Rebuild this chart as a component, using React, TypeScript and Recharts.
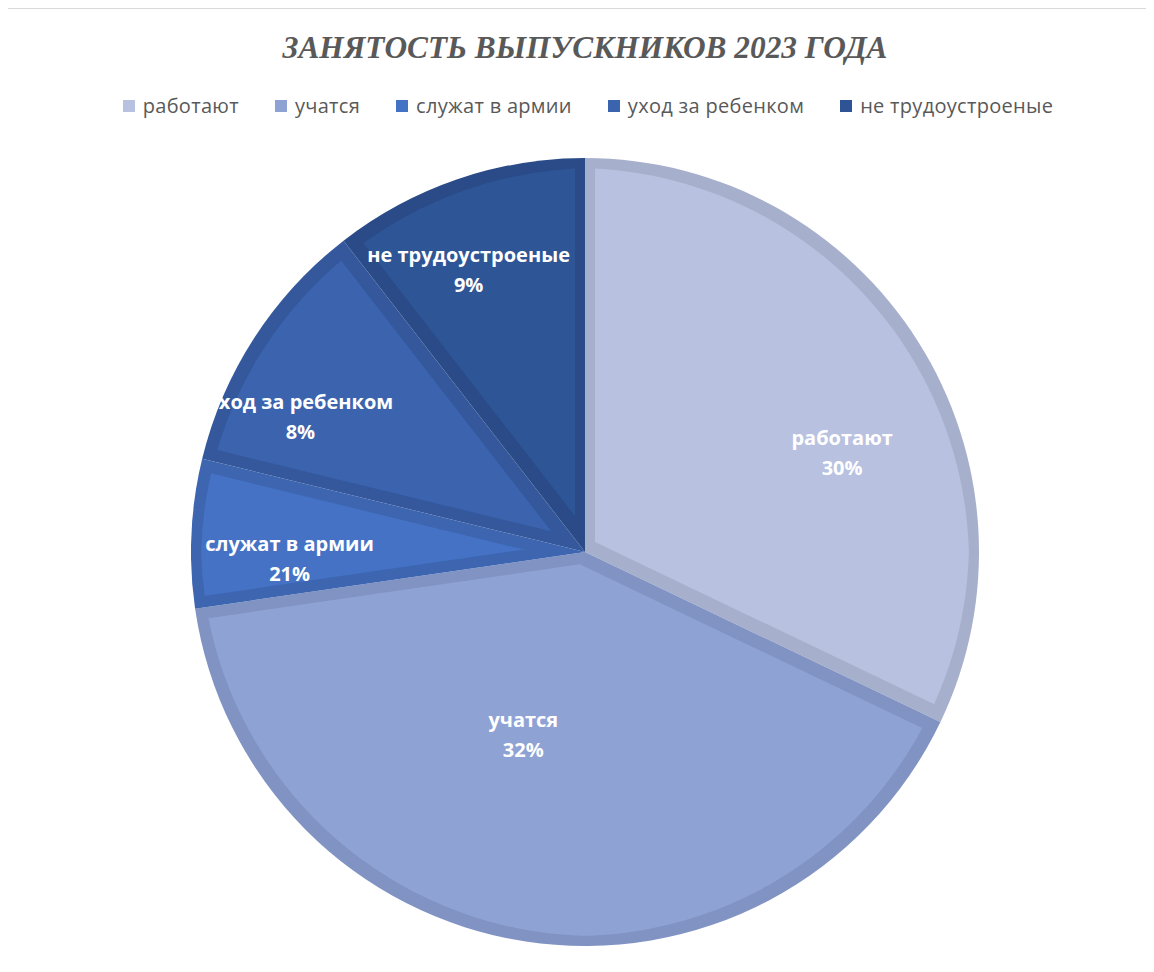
import React from 'react';
import { PieChart, Pie, Cell, Legend } from 'recharts';

const categories = ['работают', 'учатся', 'служат в армии', 'уход за ребенком', 'не трудоустроеные'];
const shares = [32.1, 40.6, 6.1, 10.7, 10.5];
const shownPercents = ['30%', '32%', '21%', '8%', '9%'];
const titleText = 'ЗАНЯТОСТЬ ВЫПУСКНИКОВ 2023 ГОДА';

const fillColors = ['#B8C1E0', '#8FA2D4', '#4472C4', '#3A64AE', '#2F5496'];
const edgeColors = ['#A6AFCB', '#8093C3', '#3C65B0', '#34599D', '#2A4B87'];
// label placement: [clockwise angle nudge (deg), radius fraction]
const labelPlacement: [number, number][] = [[11, 0.70], [10, 0.49], [-4, 0.75], [-7.5, 0.80], [-3.5, 0.775]];

const data = categories.map((name, i) => ({ name, value: shares[i] }));

const W = 1146;
const H = 950;
const CX = 577;
const CY = 544;
const R = 394;

const renderLabel = (props: any) => {
  const { cx, cy, midAngle, outerRadius, index } = props;
  const [dA, f] = labelPlacement[index];
  const ang = ((midAngle - dA) * Math.PI) / 180;
  const r = outerRadius * f;
  const x = cx + r * Math.cos(ang);
  const y = cy - r * Math.sin(ang);
  const common = {
    x,
    textAnchor: 'middle' as const,
    dominantBaseline: 'central' as const,
    fill: '#FFFFFF',
    fontSize: 20,
    fontWeight: 700,
    fontFamily: '"Open Sans", sans-serif',
  };
  return (
    <g>
      <text {...common} y={y - 15}>{categories[index]}</text>
      <text {...common} y={y + 15}>{shownPercents[index]}</text>
    </g>
  );
};

const renderLegend = () => (
  <div
    style={{
      display: 'flex',
      justifyContent: 'center',
      alignItems: 'center',
      paddingLeft: 14,
      fontFamily: '"Open Sans", sans-serif',
      fontSize: 20,
      letterSpacing: 0.3,
      color: '#595959',
      lineHeight: '26px',
      width: W,
      boxSizing: 'border-box',
    }}
  >
    {categories.map((c, i) => (
      <div key={c} style={{ display: 'flex', alignItems: 'center', marginLeft: i === 0 ? 0 : 36 }}>
        <span style={{ display: 'inline-block', width: 12, height: 12, background: fillColors[i], marginRight: 8 }} />
        <span>{c}</span>
      </div>
    ))}
  </div>
);

export default function App() {
  return (
    <div style={{ position: 'relative', width: W, height: H, background: '#fff' }}>
      <div
        style={{
          position: 'absolute',
          left: -2,
          top: -1,
          width: W + 2,
          height: H + 1,
          borderLeft: '2px solid #D9D9D9',
          borderTop: '2px solid #D9D9D9',
          boxSizing: 'border-box',
          pointerEvents: 'none',
        }}
      />
      <svg width={0} height={0} style={{ position: 'absolute' }}>
        <defs>
          {fillColors.map((c, i) => (
            <filter key={i} id={`inner${i}`} x="-5%" y="-5%" width="110%" height="110%">
              <feMorphology in="SourceAlpha" operator="erode" radius={10} result="er" />
              <feFlood floodColor={c} result="fl" />
              <feComposite in="fl" in2="er" operator="in" result="inner" />
              <feMerge>
                <feMergeNode in="SourceGraphic" />
                <feMergeNode in="inner" />
              </feMerge>
            </filter>
          ))}
        </defs>
      </svg>
      <svg width={W} height={80} style={{ position: 'absolute', left: 0, top: 0 }}>
        <text
          x={CX}
          y={50}
          textAnchor="middle"
          textLength={605}
          lengthAdjust="spacingAndGlyphs"
          fill="#595959"
          fontSize={31}
          fontStyle="italic"
          fontWeight={700}
          fontFamily='"Liberation Serif", "DejaVu Serif", serif'
        >
          {titleText}
        </text>
      </svg>
      <PieChart width={W} height={H} margin={{ top: 0, right: 0, bottom: 0, left: 0 }}>
        <Legend
          verticalAlign="middle"
          align="center"
          layout="horizontal"
          content={renderLegend}
          wrapperStyle={{ top: 85, left: 0, width: W }}
        />
        <Pie
          data={data}
          dataKey="value"
          nameKey="name"
          cx={CX}
          cy={CY}
          outerRadius={R}
          startAngle={90}
          endAngle={-270}
          stroke="none"
          label={renderLabel}
          labelLine={false}
          isAnimationActive={false}
        >
          {data.map((d, i) => (
            <Cell
              key={d.name}
              fill={edgeColors[i]}
              filter={`url(#inner${i})`}
              style={{ filter: `url(#inner${i})` }}
            />
          ))}
        </Pie>
      </PieChart>
    </div>
  );
}
